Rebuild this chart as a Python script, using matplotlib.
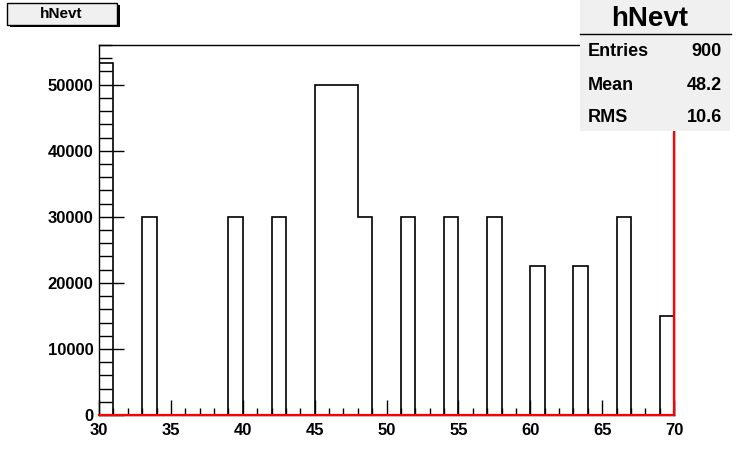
import numpy as np
import matplotlib
matplotlib.use('Agg')
import matplotlib.pyplot as plt
from matplotlib.patches import Rectangle
from matplotlib.ticker import MultipleLocator

plt.rcParams['font.family'] = ['Liberation Sans', 'DejaVu Sans']
plt.rcParams['font.weight'] = 'bold'

# histogram hNevt: 40 bins from 30 to 70
bin_edges = np.arange(30, 71, 1)
counts = np.zeros(40)
filled_bins = [30, 33, 39, 42, 45, 46, 47, 48, 51, 54, 57, 60, 63, 66, 69]
filled_vals = [53300, 30000, 30000, 30000, 50000, 50000, 50000, 30000,
               30000, 30000, 30000, 22500, 22500, 30000, 15000]
for b, v in zip(filled_bins, filled_vals):
    counts[b - 30] = v

stat_names = ['Entries', 'Mean', 'RMS']
stat_vals = ['900', '48.2', '10.6']
hist_name = 'hNevt'

W, H = 745, 462
fig = plt.figure(figsize=(W/100, H/100), dpi=100)
ax = fig.add_axes([99/W, 47/H, 575/W, 370/H])

ax.stairs(counts, bin_edges, color='black', lw=1.2, baseline=0)
# red function line along the bottom and the right edge
ax.plot([30, 70, 70], [0, 0, 56000], color='red', lw=1.6, zorder=3, clip_on=False)

ax.set_xlim(30, 70)
ax.set_ylim(0, 56000)
ax.xaxis.set_major_locator(MultipleLocator(5))
ax.xaxis.set_minor_locator(MultipleLocator(1))
ax.yaxis.set_major_locator(MultipleLocator(10000))
ax.yaxis.set_minor_locator(MultipleLocator(2000))
ax.tick_params(axis='x', which='major', direction='in', length=11, width=1, labelsize=12, pad=6)
ax.tick_params(axis='x', which='minor', direction='in', length=5, width=1)
ax.tick_params(axis='y', which='major', direction='in', length=18, width=1, labelsize=12, pad=4)
ax.tick_params(axis='y', which='minor', direction='in', length=9, width=1)
for lab in ax.get_xticklabels() + ax.get_yticklabels():
    lab.set_fontweight('bold')
for s in ax.spines.values():
    s.set_linewidth(1)

# title box with shadow
fig.patches.append(Rectangle((10/W, (H-27)/H), 110/W, 22/H,
                             transform=fig.transFigure, facecolor='black', zorder=5))
fig.patches.append(Rectangle((7/W, (H-25)/H), 110/W, 22/H,
                             transform=fig.transFigure, facecolor='#f0f0f0',
                             edgecolor='black', lw=1, zorder=6))
fig.text(61/W, (H-14)/H, hist_name, ha='center', va='center',
         fontsize=11, fontweight='bold', zorder=7)

# stats box
fig.patches.append(Rectangle((580/W, (H-131)/H), 150/W, 131/H,
                             transform=fig.transFigure, facecolor='#f0f0f0',
                             edgecolor='none', zorder=5))
fig.lines.append(plt.Line2D([580/W, 731/W], [(H-34)/H, (H-34)/H],
                            transform=fig.transFigure, color='black', lw=1, zorder=6))
fig.text(650/W, (H-19)/H, hist_name, ha='center', va='center',
         fontsize=20, fontweight='bold', zorder=7)
for i, (n, v) in enumerate(zip(stat_names, stat_vals)):
    y = (H - (52 + 33 * i)) / H
    fig.text(588/W, y, n, ha='left', va='center', fontsize=13, fontweight='bold', zorder=7)
    fig.text(722/W, y, v, ha='right', va='center', fontsize=13, fontweight='bold', zorder=7)

fig.savefig('out.png', dpi=100)
